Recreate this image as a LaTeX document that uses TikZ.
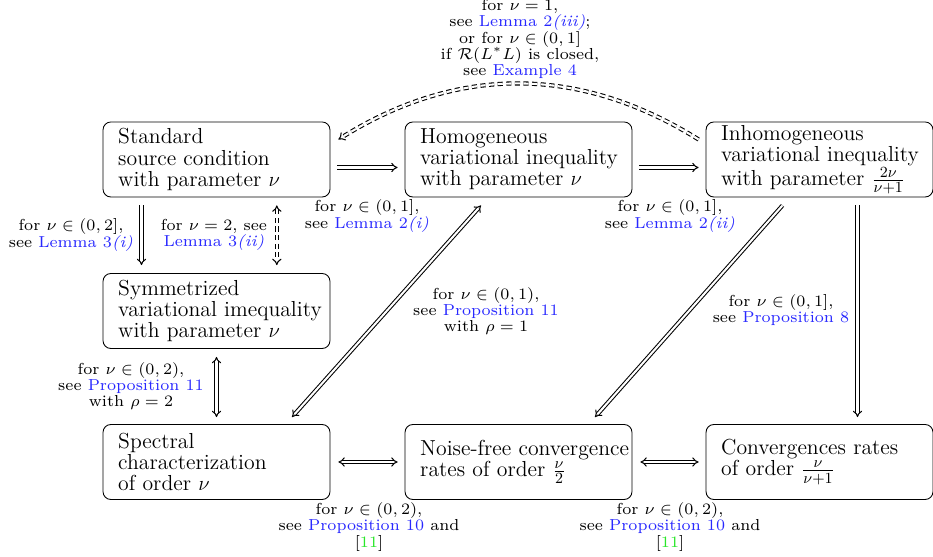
\documentclass[tikz,border=0pt]{standalone}
\usetikzlibrary{arrows.meta,calc}
\definecolor{lnk}{RGB}{40,40,255}
\definecolor{cit}{RGB}{40,230,40}
\newcommand{\lk}[1]{\textcolor{lnk}{#1}}
\newcommand{\lblfont}{\fontsize{7}{7.1}\selectfont\lineskiplimit=-6pt\relax}
\begin{document}
\begin{tikzpicture}[x=0.58pt,y=-0.58pt,
  box/.style={draw, line width=0.5pt, rounded corners=4.5pt, minimum height=43.5pt,
    text width=114pt, inner xsep=8.8pt, inner ysep=0pt, align=left,
    font=\fontsize{12.6}{12.2}\selectfont},
  dbl/.style={double, double distance=1.2pt, line width=0.6pt, -{Implies}},
  dbl2/.style={double, double distance=1.2pt, line width=0.6pt, {Implies}-{Implies}},
  dsh/.style={double, double distance=1.2pt, line width=0.62pt, dash pattern=on 3pt off 2pt},
  lbl/.style={font=\lblfont, align=center, inner sep=0pt, scale=1.32, transform shape}]
\useasboundingbox (0,0) rectangle (933,557);

\node[box] (std) at (216.5,159.5) {Standard\\ source condition\\ with parameter $\nu$};
\node[box] (hom) at (518.5,159.5) {Homogeneous\\ \mbox{variational inequality}\\ with parameter $\nu$};
\node[box] (inh) at (819.5,159.5) {Inhomogeneous\\ \mbox{variational inequality}\\ \mbox{with parameter $\frac{2\nu}{\nu+1}$}};
\node[box] (sym) at (216.5,311) {Symmetrized\\ \mbox{variational imequality}\\ with parameter $\nu$};
\node[box] (spec) at (216.5,462) {Spectral\\ characterization\\ of order $\nu$};
\node[box] (noi) at (518.5,462) {\mbox{Noise-free convergence}\\ rates of order $\frac{\nu}{2}$};
\node[box] (conv) at (819.5,462) {\mbox{Convergences rates}\\ of order $\frac{\nu}{\nu+1}$};

% top row
\draw[dbl] ($(std.east)+(7,8)$) -- ($(hom.west)+(-7,8)$);
\draw[dbl] ($(hom.east)+(7,8)$) -- ($(inh.west)+(-7,8)$);
\draw[dsh, -{Implies}] ($(inh.west)+(-7,-20)$) to[bend right=32] ($(std.east)+(8,-20)$);

% left column
\draw[dbl] ($(std.south)+(-75,8)$) -- ($(sym.north)+(-75,-8)$);
\draw[dsh, {Implies}-{Implies}] ($(std.south)+(60.3,8)$) -- ($(sym.north)+(60.3,-8)$);
\draw[dbl2] ($(sym.south)+(0,8)$) -- ($(spec.north)+(0,-7)$);

% diagonals
\draw[dbl2] ($(spec.north)+(75.5,-7)$) -- ($(hom.south)+(-37.5,8)$);
\draw[dbl] ($(inh.south)+(-37,8)$) -- ($(noi.north)+(76.5,-7)$);
\draw[dbl] ($(inh.south)+(38,8)$) -- ($(conv.north)+(38,-7)$);

% bottom row
\draw[dbl2] ($(spec.east)+(8,0)$) -- ($(noi.west)+(-7,0)$);
\draw[dbl2] ($(noi.east)+(8,0)$) -- ($(conv.west)+(-7,0)$);

% labels
\node[lbl] (l1) at (367,216) {for $\nu\in(0,1]$,\\ see \lk{Lemma 2\textit{(i)}}};
\node[lbl] (l2) at (670,216) {for $\nu\in(0,1]$,\\ see \lk{Lemma 2\textit{(ii)}}};
\node[lbl] (l3) at (71,235) {for $\nu\in(0,2]$,\\ see \lk{Lemma 3\textit{(i)}}};
\node[lbl] (l4) at (214,235) {for $\nu=2$, see\\ \lk{Lemma 3\textit{(ii)}}};
\node[lbl] (l5) at (131,386) {for $\nu\in(0,2)$,\\ see \lk{Proposition 11}\\ with $\rho=2$};
\node[lbl] (l6) at (486,311) {for $\nu\in(0,1)$,\\ see \lk{Proposition 11}\\ with $\rho=1$};
\node[lbl] (l7) at (781,310) {for $\nu\in(0,1]$,\\ see \lk{Proposition 8}};
\node[lbl] (l8) at (520,39) {for $\nu=1$,\\ see \lk{Lemma 2\textit{(iii)}};\\ or for $\nu\in(0,1]$\\ if $\mathcal{R}(L^*L)$ is closed,\\ see \lk{Example 4}};
\node[lbl] (l9) at (369,527) {for $\nu\in(0,2)$,\\ see \lk{Proposition 10} and\\ {[}\textcolor{cit}{11}{]}};
\node[lbl] (l10) at (670,527) {for $\nu\in(0,2)$,\\ see \lk{Proposition 10} and\\ {[}\textcolor{cit}{11}{]}};
\end{tikzpicture}
\end{document}
